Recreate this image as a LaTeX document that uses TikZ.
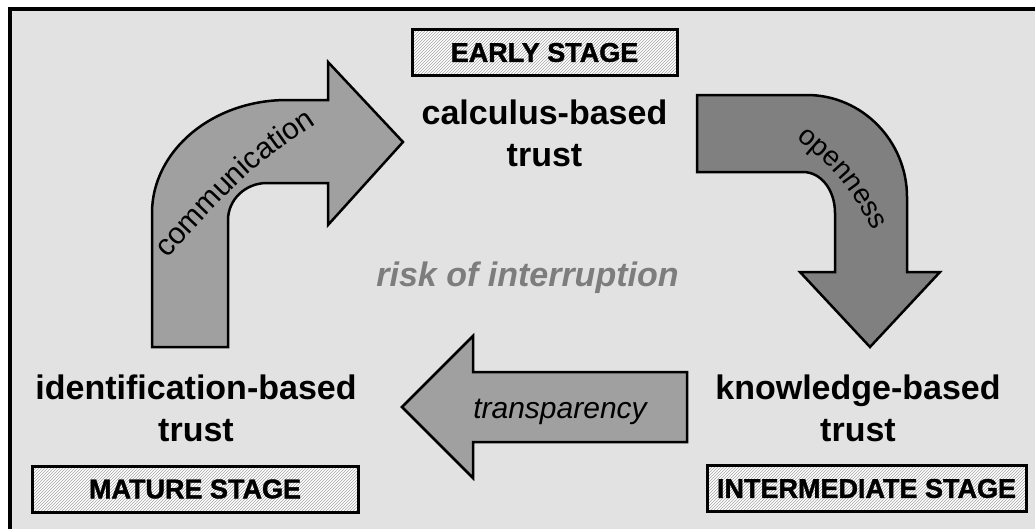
\documentclass[tikz,border=0pt]{standalone}
\usepackage{fontspec}
\setmainfont{Liberation Sans}
\newfontfamily\heavyfont{Liberation Sans}[BoldFeatures={FakeBold=1.5}]
\usetikzlibrary{patterns,decorations.text}
\definecolor{bg}{RGB}{226,226,226}
\definecolor{arrowlight}{RGB}{160,160,160}
\definecolor{arrowdark}{RGB}{128,128,128}
\definecolor{riskgray}{RGB}{125,125,125}
\begin{document}
\begin{tikzpicture}[x=1pt,y=-1pt,
  stagebox/.style={draw=black, line width=3pt, preaction={fill=white},
    pattern=north east lines, pattern color=black!35,
    font=\heavyfont\bfseries\fontsize{27}{27}\selectfont, inner sep=0pt, minimum height=46pt},
  trustlabel/.style={font=\bfseries\fontsize{34}{42}\selectfont, align=center, inner sep=0pt},
  bigarrow/.style={draw=black, line width=2.5pt, line join=miter},
  arrowtext/.style={font=\itshape\fontsize{30}{30}\selectfont, inner sep=0pt}]
\useasboundingbox (0,0) rectangle (1035,528);
\clip (0,0) rectangle (1035,528);
\fill[white] (0,0) rectangle (1035,528);
\draw[line width=4pt, fill=bg] (9.5,9) rectangle (1045,540);

% stage boxes
\node[stagebox, minimum width=265pt] (early) at (544.5,52.5) {EARLY STAGE};
\node[stagebox, minimum width=326pt] (mature) at (195,489) {MATURE STAGE};
\node[stagebox, minimum width=319pt] (inter) at (866.5,488.5) {INTERMEDIATE STAGE};

% trust labels
\node[trustlabel] (calc) at (544.5,133.5) {calculus-based\\trust};
\node[trustlabel] (ident) at (196,408) {identification-based\\trust};
\node[trustlabel] (know) at (858,408) {knowledge-based\\trust};

\node[font=\bfseries\itshape\fontsize{34}{34}\selectfont, text=riskgray, inner sep=0pt] (risk) at (527.5,278) {risk of interruption};

% communication arrow (up then right)
\draw[bigarrow, fill=arrowlight] (152,347) -- (152,213)
  .. controls (152,151) and (212,100) .. (287,100) -- (328,100) -- (328,62)
  -- (403,142) -- (328,225) -- (328,183) -- (267,183)
  .. controls (245,183) and (228,200) .. (228,220) -- (228,347) -- cycle;
\path[decorate, decoration={text along path, text align=center,
  text={|\fontsize{30}{30}\selectfont|communication}}]
  (160,266) .. controls (253,166) .. (325,118);

% openness arrow (right then down)
\draw[bigarrow, fill=arrowdark] (697,95) -- (807,95)
  .. controls (862,95) and (907,141) .. (907,197) -- (907,272) -- (940,272)
  -- (870,347) -- (800,272) -- (835,272) -- (835,213)
  .. controls (835,190) and (821,172) .. (803,172) -- (697,172) -- cycle;
\path[decorate, decoration={text along path, text align=center,
  text={|\fontsize{28}{28}\selectfont|openness}}]
  (785,129) .. controls (843.5,177.5) .. (880,244);

% transparency arrow (left)
\draw[bigarrow, fill=arrowlight] (687,372) -- (473,372) -- (473,336)
  -- (402,407) -- (473,478) -- (473,442) -- (687,442) -- cycle;
\node[arrowtext, anchor=base] (transp) at (560,418) {transparency};
\end{tikzpicture}
\end{document}
